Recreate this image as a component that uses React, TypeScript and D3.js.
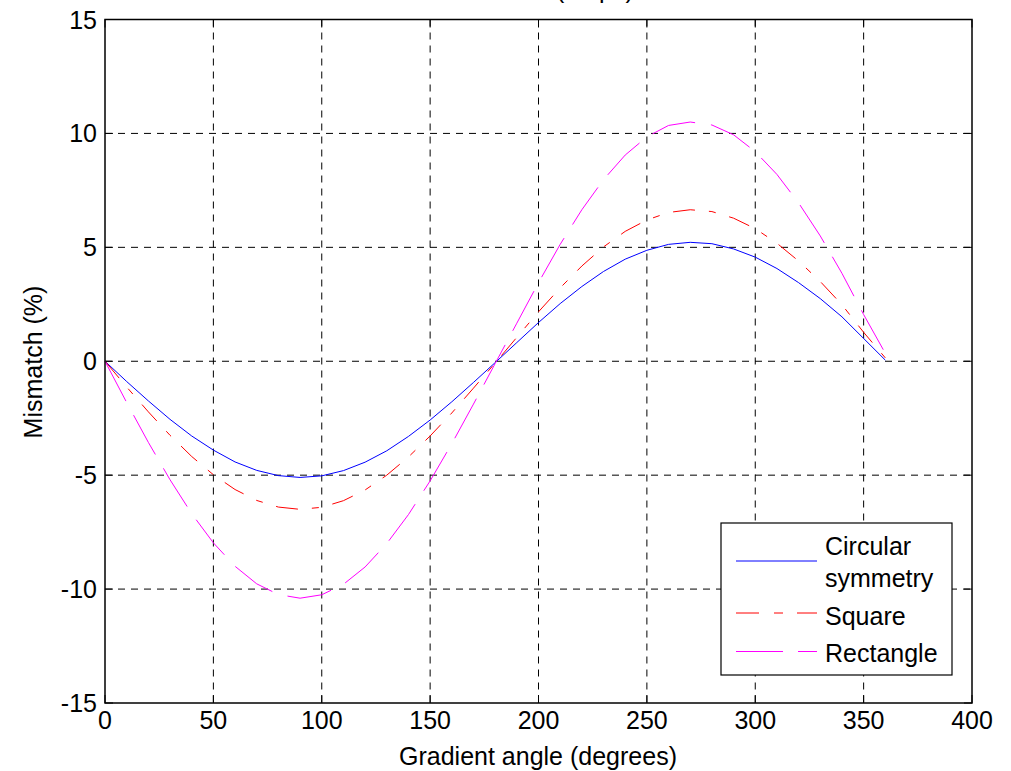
import React from "react";
import * as d3 from "d3";

const angles = [0,10,20,30,40,50,60,70,80,90,100,110,120,130,140,150,160,170,180,190,200,210,220,230,240,250,260,270,280,290,300,310,320,330,340,350,360];
const circular = [0,-0.89,-1.74,-2.55,-3.28,-3.9,-4.42,-4.79,-5.02,-5.1,-5.03,-4.8,-4.43,-3.93,-3.3,-2.58,-1.78,-0.93,-0.06,0.82,1.7,2.53,3.28,3.94,4.48,4.87,5.13,5.22,5.16,4.93,4.57,4.07,3.45,2.75,1.95,1.0,0.05];
const square = [0,-1.13,-2.22,-3.25,-4.18,-4.98,-5.63,-6.11,-6.4,-6.5,-6.41,-6.12,-5.65,-5.0,-4.2,-3.28,-2.27,-1.18,-0.08,1.05,2.17,3.22,4.18,5.02,5.7,6.2,6.53,6.65,6.57,6.28,5.82,5.18,4.4,3.5,2.48,1.27,0.15];
const rectangle = [0,-1.81,-3.56,-5.2,-6.69,-7.97,-9.0,-9.77,-10.24,-10.4,-10.25,-9.79,-9.03,-8.0,-6.73,-5.25,-3.62,-1.88,-0.1,1.67,3.45,5.13,6.65,7.97,9.05,9.85,10.35,10.5,10.37,9.94,9.2,8.2,6.95,5.5,3.86,2.05,0.35];
const xTicks = [0,50,100,150,200,250,300,350,400];
const yTicks = [-15,-10,-5,0,5,10,15];
const seriesNames = ["Circular symmetry", "Square", "Rectangle"];

const FONT = "'Liberation Sans', Arial, sans-serif";

export default function App() {
  const left = 105, right = 972, top = 19.5, bottom = 703;
  const x = d3.scaleLinear().domain([0, 400]).range([left, right]);
  const y = d3.scaleLinear().domain([-15, 15]).range([bottom, top]);
  const line = d3.line<[number, number]>().x(d => x(d[0])).y(d => y(d[1]));
  const mk = (vals: number[]) => angles.map((a, i) => [a, vals[i]] as [number, number]);

  const series = [
    { vals: circular, color: "#0000ff", dash: "none" },
    { vals: square, color: "#ff0000", dash: "22,14,7,14" },
    { vals: rectangle, color: "#ff00ff", dash: "45,16" },
  ];

  const tickLen = 8;
  return (
    <svg width={1011} height={771} style={{ position: "absolute", left: 0, top: 0, background: "#fff" }}>
      <rect x={0} y={0} width={1011} height={771} fill="#fff" />
      {/* grid */}
      {xTicks.slice(1, -1).map(t => (
        <line key={"gx" + t} x1={x(t)} x2={x(t)} y1={top} y2={bottom} stroke="#000" strokeWidth={1} strokeDasharray="7,6" />
      ))}
      {yTicks.slice(1, -1).map(t => (
        <line key={"gy" + t} x1={left} x2={right} y1={y(t)} y2={y(t)} stroke="#000" strokeWidth={1} strokeDasharray="7,6" />
      ))}
      {/* ticks */}
      {xTicks.map(t => (
        <g key={"tx" + t}>
          <line x1={x(t)} x2={x(t)} y1={bottom} y2={bottom - tickLen} stroke="#000" />
          <line x1={x(t)} x2={x(t)} y1={top} y2={top + tickLen} stroke="#000" />
          <text x={x(t)} y={729} textAnchor="middle" fontFamily={FONT} fontSize={25} fill="#000">{t}</text>
        </g>
      ))}
      {yTicks.map(t => (
        <g key={"ty" + t}>
          <line x1={left} x2={left + tickLen} y1={y(t)} y2={y(t)} stroke="#000" />
          <line x1={right} x2={right - tickLen} y1={y(t)} y2={y(t)} stroke="#000" />
          <text x={97} y={y(t) + 9} textAnchor="end" fontFamily={FONT} fontSize={25} fill="#000">{t}</text>
        </g>
      ))}
      {/* data */}
      {series.map((s, i) => (
        <path key={i} d={line(mk(s.vals)) || ""} fill="none" stroke={s.color} strokeWidth={1} strokeDasharray={s.dash} />
      ))}
      {/* frame */}
      <rect x={left} y={top} width={right - left} height={bottom - top} fill="none" stroke="#000" strokeWidth={1.5} />
      {/* labels */}
      <text x={538} y={-2} textAnchor="middle" fontFamily={FONT} fontSize={25} fill="#000">Mismatch (80 px)</text>
      <text x={538} y={765} textAnchor="middle" fontFamily={FONT} fontSize={25} fill="#000">Gradient angle (degrees)</text>
      <text transform="translate(42,362) rotate(-90)" textAnchor="middle" fontFamily={FONT} fontSize={25} fill="#000">Mismatch (%)</text>
      {/* legend */}
      <g>
        <rect x={721} y={523} width={231} height={152} fill="#fff" stroke="#000" strokeWidth={1.2} />
        <line x1={736} x2={817} y1={561} y2={561} stroke="#0000ff" />
        <text x={825} y={555} fontFamily={FONT} fontSize={25} fill="#000">{seriesNames[0].split(" ")[0]}</text>
        <text x={825} y={587} fontFamily={FONT} fontSize={25} fill="#000">{seriesNames[0].split(" ")[1]}</text>
        <line x1={736} x2={817} y1={613} y2={613} stroke="#ff0000" strokeDasharray="23,15,9,14" />
        <text x={825} y={625} fontFamily={FONT} fontSize={25} fill="#000">{seriesNames[1]}</text>
        <line x1={736} x2={817} y1={651.5} y2={651.5} stroke="#ff00ff" strokeDasharray="47,15" />
        <text x={825} y={662} fontFamily={FONT} fontSize={25} fill="#000">{seriesNames[2]}</text>
      </g>
    </svg>
  );
}
